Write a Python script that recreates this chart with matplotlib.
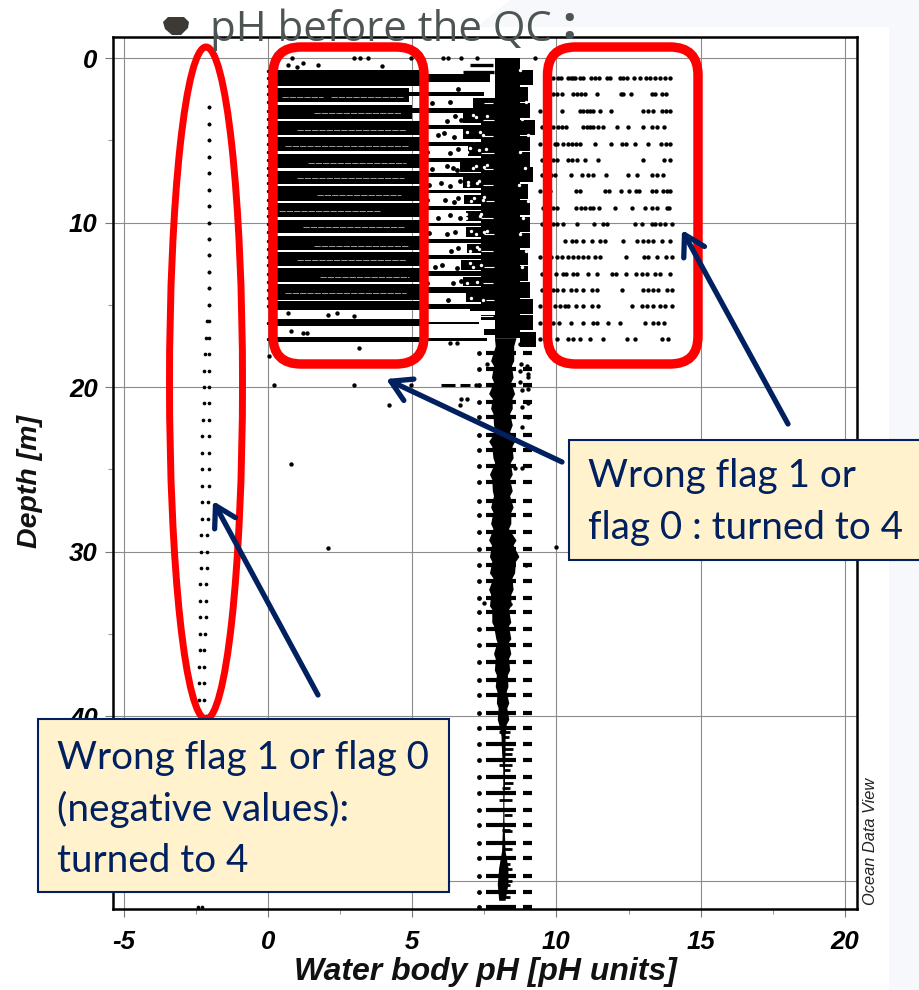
import matplotlib
matplotlib.use('Agg')
import matplotlib.pyplot as plt
from matplotlib.patches import Ellipse, FancyBboxPatch, Polygon, Rectangle

W, H = 920, 990
plt.rcParams['axes.unicode_minus'] = False

# depth levels of the upper (0-17 m) rows
row_depths = [1.2, 2.2, 3.2, 4.2, 5.2, 6.2, 7.1, 8.1, 9.1, 10.1, 11.1, 12.1, 13.1, 14.1, 15.1, 16.1, 17.1]

# solid black band in the 0-5 pH box, one per row
band_top = [0.72, 1.84, 2.86, 3.83, 4.82, 5.84, 6.85, 7.80, 8.82, 9.83, 10.80, 11.77, 12.75, 13.76, 14.77, 15.85, 16.98]
band_bottom = [1.70, 2.68, 3.70, 4.70, 5.68, 6.70, 7.66, 8.66, 9.68, 10.64, 11.66, 12.66, 13.62, 14.68, 15.30, 16.27, 17.24]
band_right = [5.4, 4.9, 5.0, 5.3, 5.3, 5.3, 5.3, 5.3, 5.3, 5.3, 5.3, 5.3, 5.3, 5.3, 5.3, 5.3, 5.3]
band_left = 0.2

# continuation of the rows between the box and the pH 8 column
mid_right = [7.7, 7.5, 7.7, 7.7, 7.6, 7.7, 7.7, 7.6, 7.7, 7.7, 7.7, 7.7, 7.7, 7.7, 7.7, 7.3, 7.6]
mid_half = [0.26, 0.12, 0.14, 0.12, 0.12, 0.10, 0.12, 0.10, 0.12, 0.10, 0.12, 0.12, 0.14, 0.16, 0.14, 0.08, 0.08]

# dark block around pH 7
block_left = [7.1, 6.75, 6.75, 6.95, 6.65, 6.75, 6.8, 6.85, 6.85, 6.9, 6.7, 6.75, 6.85, 7.0, 7.4, 7.5]
block_top = [2.45, 3.3, 4.3, 5.3, 6.3, 7.25, 8.3, 9.3, 10.3, 11.3, 12.3, 13.3, 14.3, 15.1, 15.6, 16.45]
block_bottom = [3.05, 3.95, 4.95, 5.95, 6.9, 7.9, 8.9, 9.9, 10.9, 11.85, 12.9, 13.85, 14.8, 15.4, 15.9, 16.85]
block_solid_left = 7.4
block_solid_top = 2.4
block_solid_bottom = 15.1

# white flecks inside the dark areas
streak_depth = [2.35, 2.35, 3.35, 4.35, 5.35, 6.4, 7.3, 8.3, 9.3, 10.3, 11.4, 12.3, 13.3, 14.3]
streak_left = [0.5, 2.2, 1.6, 1.0, 0.6, 1.4, 1.0, 1.7, 0.4, 1.2, 1.6, 1.0, 1.8, 0.6]
streak_right = [1.9, 4.7, 4.6, 4.8, 4.9, 4.8, 4.7, 4.6, 3.9, 4.7, 4.9, 4.8, 4.9, 4.8]
fleck_ph = [7.0, 7.2, 7.45, 6.9, 7.3, 7.1, 7.5, 6.95, 7.25, 7.45, 7.05, 7.35, 6.85, 7.2, 7.5, 7.0, 7.3, 7.1, 7.4, 6.9, 7.25, 7.05, 7.45, 7.15,
            7.6, 7.1, 6.9, 7.35, 7.55, 7.0, 7.2, 7.6, 6.95, 7.3, 7.5, 7.15, 6.85, 7.4, 7.05, 7.6, 7.25, 7.0,
            8.75, 8.95, 8.8, 9.0, 8.75, 8.9, 8.7, 9.0, 8.85, 8.75, 8.95, 8.8]
fleck_depth = [2.7, 3.6, 4.7, 5.7, 5.6, 6.7, 6.6, 7.7, 7.6, 8.6, 8.7, 9.6, 9.7, 10.7, 10.6, 11.7, 11.6, 12.7, 12.6, 13.7, 13.6, 14.6, 14.7, 5.0,
               3.5, 3.45, 4.5, 4.5, 5.5, 5.45, 6.55, 6.5, 7.55, 7.45, 8.45, 8.5, 9.5, 9.45, 10.5, 10.5, 11.5, 12.45,
               0.7, 2.7, 3.7, 4.7, 5.7, 6.7, 7.7, 8.7, 9.7, 10.7, 11.7, 12.7]
block_streak_depth = [1.75, 2.75, 3.75, 4.75, 5.75, 6.75, 7.7, 8.7, 9.7, 10.7, 11.7, 12.7, 13.7, 14.7, 15.7]
block_streak_left = [7.0, 7.5, 7.45, 7.5, 7.4, 7.5, 7.45, 7.55, 7.4, 7.5, 7.4, 7.5, 7.45, 7.55, 7.1]
block_streak_right = [7.8, 7.8, 7.85, 7.8, 7.85, 7.8, 7.8, 7.85, 7.8, 7.85, 7.8, 7.85, 7.8, 7.85, 7.8]

# points in the gaps between the rows right of the box
gap_ph = [6.6, 6.3, 5.7, 6.5, 6.2, 6.7, 5.45, 6.1, 6.45, 5.9, 6.6, 6.3, 5.5, 6.2, 6.55, 6.4, 5.7, 6.65, 6.0, 6.3, 5.6, 6.6, 6.15, 6.45, 5.5, 6.3, 6.65, 5.9, 6.5, 6.2, 5.6, 6.6, 6.35, 6.05, 6.55, 5.8, 6.4, 6.7, 5.5, 6.25]
gap_depth = [1.9, 2.7, 2.75, 3.5, 3.8, 3.75, 3.7, 4.55, 4.8, 4.7, 5.5, 5.75, 5.7, 6.55, 6.8, 6.7, 6.75, 7.5, 7.6, 7.75, 7.7, 8.5, 8.65, 8.75, 8.6, 9.55, 9.75, 9.7, 10.55, 10.7, 10.65, 11.55, 11.7, 12.6, 12.75, 12.7, 13.7, 13.55, 13.65, 14.7]

# pH 8 column, 0-17 m
core_left = 7.87
core_right = 8.75
core_bottom = 17.0
fringe_right = [9.2, 9.0, 9.1, 9.25, 9.1, 9.1, 9.2, 9.0, 9.1, 9.1, 9.1, 9.0, 9.0, 9.1, 9.2, 9.2, 9.3]

# short lines above the first row
top_depth = [0.45, 0.85]
top_left = [7.0, 6.75]
top_right = [7.8, 7.85]

# scattered rows in the pH 9.4-14 box
right_ph = [
    [9.89, 10.07, 10.15, 10.41, 10.49, 10.59, 10.64, 10.82, 10.91, 11.19, 11.34, 11.49, 11.74, 11.86, 12.20, 12.32, 12.46, 12.69, 12.90, 13.11, 13.25, 13.42, 13.59, 13.77, 13.94],
    [9.89, 10.03, 10.18, 10.59, 10.70, 10.84, 10.99, 11.40, 12.23, 12.32, 12.57, 13.30, 13.42, 13.65, 13.80],
    [9.43, 10.18, 10.82, 10.93, 11.05, 11.16, 11.28, 11.51, 11.88, 13.01, 13.19, 13.36, 13.65, 13.80, 13.94],
    [9.49, 9.66, 9.89, 10.07, 10.18, 10.33, 10.91, 11.05, 11.16, 11.28, 11.45, 11.63, 12.09, 12.49, 13.01, 13.30, 13.48, 13.73],
    [9.43, 9.95, 10.01, 10.24, 10.41, 10.53, 10.68, 10.82, 11.34, 11.88, 12.26, 12.41, 12.72, 13.19, 13.62, 13.80, 13.94],
    [9.49, 9.89, 10.01, 10.41, 10.53, 10.70, 10.99, 11.45, 13.01, 13.73, 13.94],
    [9.49, 9.83, 9.95, 10.49, 10.88, 11.11, 11.26, 11.72, 12.49, 12.81, 13.30, 13.48, 13.68],
    [9.43, 9.78, 10.68, 10.82, 11.68, 11.83, 12.24, 12.53, 12.76, 12.88, 13.30, 13.45, 13.68, 13.82, 13.94],
    [9.55, 9.72, 9.89, 10.03, 10.68, 10.84, 10.99, 11.16, 11.28, 11.49, 12.03, 12.61, 13.07, 13.30, 13.50, 13.82, 13.92],
    [9.49, 9.89, 10.03, 10.22, 10.70, 11.30, 11.63, 11.74, 12.72, 12.96, 13.30, 13.42, 13.59, 13.77, 14.00],
    [10.30, 10.53, 10.68, 10.91, 11.22, 11.51, 11.68, 12.32, 12.78, 13.01, 13.19, 13.36, 13.65, 13.94],
    [9.43, 9.66, 9.83, 10.01, 10.18, 10.41, 10.59, 10.76, 10.93, 11.11, 11.34, 11.51, 12.41, 13.04, 13.19, 13.48, 13.80, 14.00],
    [9.49, 9.66, 9.98, 10.24, 10.35, 10.59, 10.70, 11.11, 11.42, 11.92, 12.07, 12.41, 12.76, 12.96, 13.15, 13.42, 13.59, 13.94],
    [9.49, 9.89, 10.01, 10.22, 10.49, 10.68, 10.91, 11.22, 11.42, 12.26, 13.01, 13.19, 13.36, 13.53, 13.82, 14.00],
    [9.43, 9.66, 9.95, 10.12, 10.30, 10.41, 10.68, 10.93, 11.22, 11.45, 12.61, 12.96, 13.13, 13.36, 13.59, 13.77, 14.00],
    [9.43, 9.66, 9.89, 10.10, 10.49, 10.91, 11.28, 11.40, 11.80, 12.20, 13.07, 13.36, 13.53, 13.73],
    [9.43, 9.66, 10.01, 10.41, 10.59, 10.82, 11.16, 11.63, 12.46, 12.72, 13.65, 13.88],
]

# negative pH column
neg_depths = [3, 4, 5, 6, 7, 8, 9, 10, 11, 12, 13, 14, 15, 16, 17, 18, 19, 20, 21, 22, 23, 24, 25, 26, 27, 28, 29, 30, 31,
              32, 33, 34, 35, 36, 37, 38, 39, 40, 51.6]
neg_ph_a = [-2.05, -2.05, -2.05, -2.05, -2.05, -2.03, -2.03, -2.03, -2.03, -2.03, -2.03, -2.03, -2.03, -2.03, -2.03, -2.03, -2.03, -2.03, -2.03, -2.03, -2.03, -2.03, -2.03, -2.03, -2.06, -2.08, -2.1, -2.1, -2.12,
            -2.14, -2.15, -2.16, -2.18, -2.2, -2.2, -2.22, -2.2, -2.15, -2.3]
neg_ph_b = [-2.05, -2.05, -2.05, -2.05, -2.05, -2.03, -2.03, -2.03, -2.03, -2.03, -2.03, -2.03, -2.03, -2.1, -2.15, -2.18, -2.2, -2.22, -2.2, -2.25, -2.27, -2.27, -2.3, -2.3, -2.3, -2.3, -2.32, -2.32, -2.32,
            -2.34, -2.34, -2.35, -2.36, -2.36, -2.38, -2.38, -2.4, -2.25, -2.42]

# dots along pH 0
zero_depths = [0.8, 1.2, 1.7, 2.2, 2.7, 3.2, 3.7, 4.2, 4.7, 5.2, 5.7, 6.2, 6.7, 7.1, 7.6, 8.1, 8.6, 9.1, 9.6, 10.1, 10.6, 11.1, 11.6, 12.1, 12.6, 13.1, 13.6, 14.1, 14.6, 15.1, 16.1, 17.1]

# isolated points
single_ph = [0.83, 3.0, 3.2, 3.47, 4.97, 6.07, 6.25, 6.7, 7.24, 9.26, 1.2, 1.74, 3.95, 1.0, 0.7,
             0.7, 2.08, 2.4, 3.0, 0.8, 1.2, 1.35, 3.16, 0.05, 0.2, 3.0, 4.97, 4.2, 0.8, 2.08, 10.0,
             7.2, 8.74, 8.76, 8.99, 8.74, 9.0, 9.0, 8.74, 9.0, 8.8, 9.0, 8.8, 9.0, 8.8, 8.57, 8.8,
             7.6, 7.85, 6.7, 6.9, 6.65, 6.3, 6.55, 8.95, 8.4, 7.5]
single_depth = [0.0, 0.0, 0.0, 0.0, 0.0, 0.0, 0.0, 0.0, 0.0, 0.0, 0.3, 0.45, 0.5, 0.55, 0.4,
                15.5, 15.6, 15.5, 15.7, 16.6, 16.7, 16.7, 17.6, 18.1, 19.9, 19.9, 19.9, 21.1, 24.7, 29.8, 29.7,
                19.9, 17.4, 18.6, 18.75, 19.0, 19.2, 19.4, 19.7, 20.1, 20.2, 21.0, 21.2, 21.8, 22.4, 24.9, 24.9,
                18.6, 18.9, 20.7, 20.7, 21.1, 17.3, 17.3, 30.8, 33.2, 33.1]

# dashes along the 20 m line
dash20_left = [6.0, 6.66]
dash20_right = [6.5, 7.0]

# deep rows, each with a dot, a long line and a short dash
deep_depths = [17.9, 18.9, 19.9, 20.9, 21.8, 22.9, 23.8, 24.8, 25.8, 26.9, 27.8, 28.8, 29.85, 30.8, 31.8, 32.8, 33.7, 34.7, 35.7, 36.7, 37.8, 38.7, 39.8, 40.7,
               41.7, 42.7, 43.7, 44.7, 45.7, 46.6, 47.7, 48.6, 49.7, 50.7, 51.6]
deep_dot = 7.33
deep_line_left = 7.55
deep_line_right = 8.6
deep_dash_left = 8.84
deep_dash_right = 9.15

# thin extra lines just below the deep rows
sub_depths = [41.0, 42.0, 43.0, 44.1, 45.1, 46.0, 47.0, 48.1, 49.0, 50.0, 51.0, 41.3, 42.3, 43.3, 44.4, 46.95, 49.3, 50.3]
sub_left = [8.0, 8.1, 8.0, 8.2, 8.0, 8.2, 8.2, 8.2, 8.05, 8.0, 8.1, 8.1, 8.2, 8.2, 8.1, 8.1, 8.0, 8.0]
sub_right = [8.4, 8.5, 8.45, 8.5, 8.45, 8.45, 8.45, 8.45, 8.4, 8.45, 8.4, 8.35, 8.45, 8.4, 8.4, 8.4, 8.45, 8.4]

# body of the pH 8 column below 17 m
blob_depth = [17.0, 17.5, 18.4, 18.7, 19.4, 19.7, 20.4, 20.7, 21.3, 21.6, 22.3, 22.7, 23.3, 23.6, 24.3, 24.6, 25.3, 25.6, 26.3, 26.6, 27.3, 27.6, 28.3, 28.6, 29.3, 29.6, 30.3, 30.6, 31.3, 31.6, 32.3, 32.6, 33.3, 33.5, 34.3, 34.5, 35.3, 35.5, 36.2, 36.5, 37.2, 37.5, 38.2, 38.5, 39.2, 39.5, 40.2, 40.5, 41.2, 42.2, 43.2, 44.2, 45.2, 46.2, 47.2, 48.2, 49.2, 50.2, 51.2]
blob_left = [7.85, 7.88, 7.72, 7.82, 7.75, 7.82, 7.65, 7.78, 7.72, 7.8, 7.82, 7.88, 7.65, 7.76, 7.8, 7.86, 7.68, 7.76, 7.78, 7.82, 7.72, 7.8, 7.72, 7.8, 7.65, 7.75, 7.68, 7.76, 7.68, 7.8, 7.65, 7.72, 7.68, 7.76, 7.76, 7.82, 7.9, 7.94, 7.82, 7.88, 7.85, 7.92, 7.88, 7.94, 7.92, 7.98, 7.95, 8.0, 8.08, 8.1, 8.14, 8.14, 8.14, 8.14, 8.12, 8.1, 8.0, 7.95, 8.0]
blob_right = [8.6, 8.52, 8.52, 8.44, 8.5, 8.42, 8.55, 8.46, 8.47, 8.38, 8.47, 8.38, 8.55, 8.46, 8.5, 8.4, 8.47, 8.38, 8.47, 8.38, 8.5, 8.42, 8.42, 8.34, 8.6, 8.5, 8.7, 8.58, 8.55, 8.46, 8.5, 8.42, 8.42, 8.34, 8.42, 8.34, 8.42, 8.34, 8.42, 8.34, 8.38, 8.3, 8.32, 8.26, 8.35, 8.28, 8.35, 8.26, 8.22, 8.22, 8.2, 8.2, 8.18, 8.18, 8.2, 8.22, 8.32, 8.32, 8.22]

x_ticks = [-5, 0, 5, 10, 15, 20]
x_minor = [-2.5, 2.5, 7.5, 12.5, 17.5]
y_ticks = [0, 10, 20, 30, 40, 50]
y_labels = ['0', '10', '20', '30', '40', '']
y_minor = [5, 15, 25, 35, 45]

fig = plt.figure(figsize=(W / 100, H / 100), dpi=100, facecolor='white')

# slide background behind the pasted plot
bg = fig.add_axes([0, 0, 1, 1], zorder=0)
bg.set_xlim(0, W)
bg.set_ylim(H, 0)
bg.axis('off')
bg.add_patch(Polygon([(510, 0), (W, 0), (W, H), (889, H), (889, 27), (477, 27)], fc='#F7F8FC', ec='none'))

ax = fig.add_axes([113 / W, (H - 909) / H, (857 - 113) / W, (909 - 37) / H], zorder=1)
ax.set_facecolor('white')
ax.set_xlim(-5.37, 20.42)
ax.set_ylim(51.73, -1.28)

ax.set_xticks(x_ticks)
ax.set_xticks(x_minor, minor=True)
ax.set_yticks(y_ticks, y_labels)
ax.set_yticks(y_minor, minor=True)
ax.grid(True, which='major', color='#8c8c8c', lw=0.8, zorder=0)
ax.set_axisbelow(True)
ax.tick_params(which='major', length=6, width=0.8, color='#777777')
ax.tick_params(axis='x', which='major', pad=9)
ax.tick_params(axis='y', which='major', pad=5)
ax.tick_params(which='minor', length=3.5, width=0.8, color='#999999')
for lab in ax.get_xticklabels() + ax.get_yticklabels():
    lab.set_family('Liberation Sans')
    lab.set_weight('bold')
    lab.set_style('italic')
    lab.set_size(18.5)
for sp in ax.spines.values():
    sp.set_linewidth(1.8)

k = {'color': 'black', 'linewidth': 0, 'zorder': 3}
for i, d in enumerate(row_depths):
    ax.barh((band_top[i] + band_bottom[i]) / 2, band_right[i] - band_left, band_bottom[i] - band_top[i], left=band_left, **k)
    ax.barh(d, mid_right[i] - band_right[i], 2 * mid_half[i], left=band_right[i], **k)
    ax.barh(d, fringe_right[i] - core_right, 0.92, left=core_right, **k)
    ax.scatter(right_ph[i], [d] * len(right_ph[i]), s=10, c='black', linewidths=0, zorder=3)
for i in range(len(block_left)):
    ax.barh((block_top[i] + block_bottom[i]) / 2, core_left - block_left[i], block_bottom[i] - block_top[i], left=block_left[i], **k)
ax.barh((block_solid_top + block_solid_bottom) / 2, core_left - block_solid_left, block_solid_bottom - block_solid_top, left=block_solid_left, **k)
ax.barh(core_bottom / 2, core_right - core_left, core_bottom, left=core_left, **k)
ax.hlines(top_depth, top_left, top_right, color='black', lw=2.4, zorder=3)
ax.hlines(streak_depth, streak_left, streak_right, color='#d8d8d8', lw=0.5, linestyles=(0, (9, 1.5)), zorder=4)
ax.hlines(block_streak_depth, block_streak_left, block_streak_right, color='white', lw=0.8, zorder=4)
ax.scatter(fleck_ph, fleck_depth, s=6, c='white', linewidths=0, zorder=4)
ax.scatter(gap_ph, gap_depth, s=12, c='black', linewidths=0, zorder=3)

ax.scatter(neg_ph_a, neg_depths, s=7, c='black', linewidths=0, zorder=3)
ax.scatter(neg_ph_b, neg_depths, s=7, c='black', linewidths=0, zorder=3)
ax.scatter([0.0] * len(zero_depths), zero_depths, s=6, c='black', linewidths=0, zorder=3)
ax.scatter(single_ph, single_depth, s=10, c='black', linewidths=0, zorder=3)
ax.hlines([19.9, 19.9], dash20_left, dash20_right, color='black', lw=2.2, zorder=3)

ax.scatter([deep_dot] * len(deep_depths), deep_depths, s=12, c='black', linewidths=0, zorder=3)
ax.hlines(deep_depths, deep_line_left, deep_line_right, color='black', lw=3.0, zorder=3)
ax.hlines(deep_depths, deep_dash_left, deep_dash_right, color='black', lw=3.0, zorder=3)
ax.hlines(sub_depths, sub_left, sub_right, color='black', lw=2.0, zorder=3)
ax.fill_betweenx(blob_depth, blob_left, blob_right, color='black', lw=0, zorder=3)

# everything pasted on top of the plot, in picture pixels
ov = fig.add_axes([0, 0, 1, 1], zorder=2)
ov.set_xlim(0, W)
ov.set_ylim(H, 0)
ov.axis('off')
ov.patch.set_alpha(0)

NAVY = '#002060'
RED = '#FF0000'
BOLD = {'family': 'Liberation Sans', 'weight': 'bold', 'style': 'italic', 'color': '#111111'}
BOX = {'family': 'Lato', 'color': NAVY, 'size': 27.8, 'va': 'baseline'}

ov.text(210, 41, 'pH before the QC', family='Open Sans', size=30.2, color='#4D5554', va='baseline')
ov.text(562, 39, ':', family='Open Sans', weight='bold', size=34, color='#4D5554', va='baseline')
ov.add_patch(Polygon([(163, 22), (168, 17), (184, 17), (189, 22), (188, 28), (181, 35), (172, 35), (165, 29)], fc='#3D3A35', ec='none'))

ov.add_patch(Ellipse((206, 383), 73, 672, fc='none', ec=RED, lw=5))
for x0, x1 in [(273, 424), (547.5, 698)]:
    ov.add_patch(FancyBboxPatch((x0, 47), x1 - x0, 317, boxstyle='round,pad=0,rounding_size=28', fc='none', ec=RED, lw=6.8))

for tail, tip in [((788, 424), (682, 230)), ((562, 462), (386, 379)), ((318, 695), (213, 501))]:
    ov.annotate('', xy=tip, xytext=tail,
                arrowprops=dict(arrowstyle='->,head_length=0.85,head_width=0.5', color=NAVY, lw=3.8,
                                shrinkA=0, shrinkB=0, mutation_scale=17))

ov.add_patch(Rectangle((38, 719), 411, 173, fc='#FFF2CC', ec=NAVY, lw=1.5))
ov.add_patch(Rectangle((569, 440), 360, 120, fc='#FFF2CC', ec=NAVY, lw=1.5))
for y, s in [(769, 'Wrong flag 1 or flag 0'), (821, '(negative values):'), (872, 'turned to 4')]:
    ov.text(57, y, s, **BOX)
for y, s in [(487, 'Wrong flag 1 or'), (539, 'flag 0 : turned to 4')]:
    ov.text(588, y, s, **BOX)

ov.text(485, 980, 'Water body pH [pH units]', ha='center', va='baseline', size=23, **BOLD)
ov.text(30, 481, 'Depth [m]', rotation=90, ha='center', va='center', size=20.5, **BOLD)
ov.text(871, 841, 'Ocean Data View', rotation=90, ha='center', va='center', family='Liberation Sans', style='italic', size=11.8, color='#222222')

plt.savefig('out.png', dpi=100)
